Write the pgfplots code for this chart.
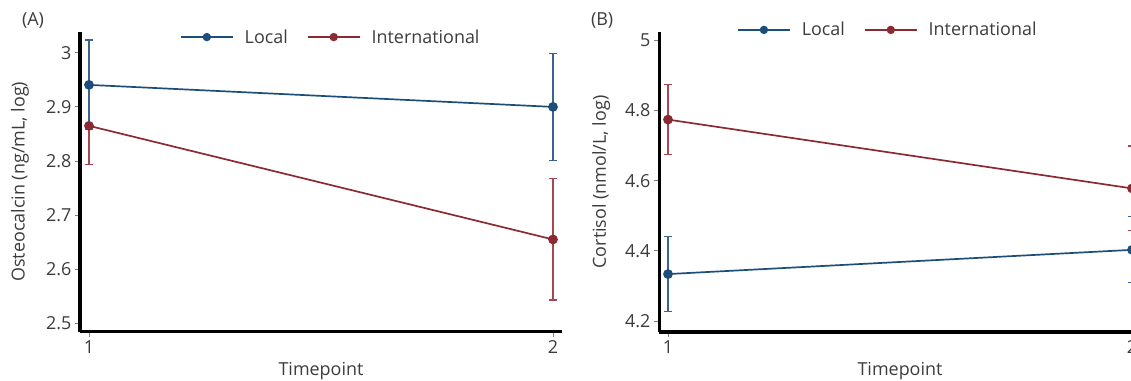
\documentclass[border=0pt]{standalone}
\usepackage{pgfplots}
\pgfplotsset{compat=1.18}
\usepackage{fontspec}
\setmainfont{Open Sans}
\definecolor{cblue}{RGB}{29,78,122}
\definecolor{cred}{RGB}{140,42,52}
\definecolor{eblue}{RGB}{60,100,145}
\definecolor{ered}{RGB}{165,70,80}
\definecolor{txt}{RGB}{60,60,60}
\newcommand{\fs}{\fontsize{18}{21}\selectfont}
\pgfplotsset{
 panel/.style={scale only axis, width=482bp, height=300bp, xmin=0.9806, xmax=2.0194,
   axis x line*=bottom, axis y line*=left,
   axis line style={line width=3bp, black, -},
   xtick={1,2}, tick align=outside, major tick length=5bp,
   tick style={color=gray, line width=0.8bp},
   ticklabel style={font=\fs, text=txt},
   /pgf/number format/assume math mode=true,
   label style={font=\fs, text=txt},
   xlabel=Timepoint,
   xlabel style={at={(axis description cs:0.5,-0.13)}, anchor=center},
   legend columns=2,
   legend style={draw=none, fill=none, inner sep=0pt, outer sep=0pt, anchor=west,
     font=\fs, text=txt,
     /tikz/every odd column/.append style={column sep=11bp},
     /tikz/every even column/.append style={column sep=19bp},
     nodes={inner sep=0pt}},
   legend image code/.code={\draw[##1, mark size=3.3bp, mark repeat=2, mark phase=2] plot coordinates {(0bp,0bp)(26bp,0bp)(52bp,0bp)};},
   clip=false},
 loc/.style={color=cblue, line width=1.7bp, mark=*, mark size=4bp, mark options={solid}},
 intl/.style={color=cred, line width=1.7bp, mark=*, mark size=4bp, mark options={solid}},
 ebars/.style={error bars/.cd, y dir=both, y explicit,
   error bar style={line width=1.2bp, color=#1},
   error mark options={rotate=90, mark size=4bp, line width=1.2bp, color=#1}},
}
\begin{document}
\begin{tikzpicture}
\useasboundingbox (0,0) rectangle (1131bp,381bp);
\clip (0,0) rectangle (1131bp,381bp);
% Panel A
\begin{axis}[panel, at={(80bp,49.3bp)}, anchor=south west,
  ymin=2.4845, ymax=3.039, ytick={2.5,2.6,2.7,2.8,2.9,3},
  ylabel={Osteocalcin (ng/mL, log)},
  ylabel style={at={(axis description cs:-0.1245,0.5)}, anchor=center},
  legend style={at={(axis description cs:0.2075,0.982)}}]
\addlegendimage{loc}\addlegendentry{Local}
\addlegendimage{intl}\addlegendentry{International}
\addplot[intl, forget plot, ebars=ered] table[x=x, y=y, y error=e] {
x y e
1 2.865 0.072
2 2.655 0.112
};
\addplot[loc, forget plot, ebars=eblue] table[x=x, y=y, y error=e] {
x y e
1 2.9407 0.083
2 2.900 0.099
};
\node[font=\fs, text=txt] at (axis description cs:-0.0975,1.039) {(A)};
\end{axis}
% Panel B
\begin{axis}[panel, at={(659bp,49bp)}, anchor=south west,
  ymin=4.169, ymax=5.0235, ytick={4.2,4.4,4.6,4.8,5},
  ylabel={Cortisol (nmol/L, log)},
  ylabel style={at={(axis description cs:-0.120,0.5)}, anchor=center},
  legend style={at={(axis description cs:0.162,1.007)}}]
\addlegendimage{loc}\addlegendentry{Local}
\addlegendimage{intl}\addlegendentry{International}
\addplot[intl, forget plot, ebars=ered] table[x=x, y=y, y error=e] {
x y e
1 4.774 0.100
2 4.578 0.121
};
\addplot[loc, forget plot, ebars=eblue] table[x=x, y=y, y error=e] {
x y e
1 4.334 0.106
2 4.403 0.094
};
\node[font=\fs, text=txt] at (axis description cs:-0.118,1.039) {(B)};
\end{axis}
\end{tikzpicture}
\end{document}
